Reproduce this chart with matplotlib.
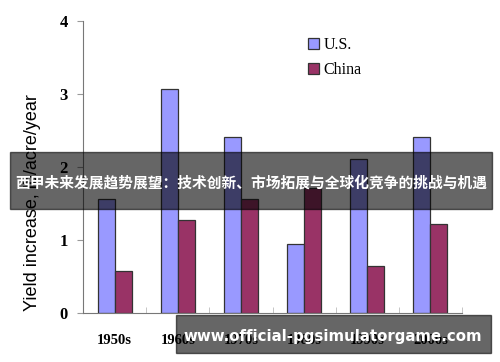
import numpy as np
import matplotlib.pyplot as plt

decades = ["1950s", "1960s", "1970s", "1980s", "1990s", "2000s"]
us = [1.56, 3.07, 2.41, 0.95, 2.11, 2.41]
china = [0.58, 1.27, 1.56, 1.71, 0.64, 1.22]

banner = "西甲未来发展趋势展望：技术创新、市场拓展与全球化竞争的挑战与机遇"
watermark = "www.official-pgsimulatorgame.com"

fig = plt.figure(figsize=(5, 3.62), dpi=100)
ax = fig.add_axes([0.166, 0.135, 0.758, 0.807])

x = np.arange(len(decades))
width = 0.27
ax.bar(x - width / 2, us, width, color="#9999ff", edgecolor="#333333",
       linewidth=0.9, label="U.S.")
ax.bar(x + width / 2, china, width, color="#993366", edgecolor="#333333",
       linewidth=0.9, label="China")

ax.set_xlim(-0.5, len(decades) - 0.5)
ax.set_ylim(0, 4)
ax.set_yticks([0, 1, 2, 3, 4])
ax.set_yticklabels(["0", "1", "2", "3", "4"], fontfamily="Liberation Serif",
                   fontweight="bold", fontsize=12)
ax.set_xticks(x)
ax.set_xticklabels(decades, fontfamily="Liberation Serif", fontweight="bold",
                   fontsize=10.5)
ax.tick_params(axis="x", length=0, pad=15)
ax.tick_params(axis="y", length=4, color="#999999", pad=7)
ax.set_xticks(np.arange(len(decades) + 1) - 0.5, minor=True)
ax.tick_params(axis="x", which="minor", direction="in", length=4, color="#bbbbbb")

for s in ["top", "right"]:
    ax.spines[s].set_visible(False)
ax.spines["left"].set_color("#777777")
ax.spines["bottom"].set_color("#777777")

ax.set_ylabel("Yield increase, lb/acre/year", fontfamily="Liberation Sans",
              fontsize=13)
ax.yaxis.set_label_coords(-0.11, 0.38)

ax.legend(loc="upper left", bbox_to_anchor=(0.555, 0.995), frameon=False,
          prop={"family": "Liberation Serif", "size": 11.5},
          handlelength=0.7, handleheight=0.7, handletextpad=0.3,
          labelspacing=0.6)

# overlay banner and watermark
fig.patches.append(plt.Rectangle((10 / 500, 1 - 209 / 362), 482 / 500, 57 / 362,
                                 transform=fig.transFigure, color="black",
                                 alpha=0.6, zorder=5))
fig.text(251 / 500, 1 - 183 / 362, banner, color="white", fontsize=10.6,
         fontweight="bold", ha="center", va="center", zorder=6,
         family=["Noto Sans CJK SC", "DejaVu Sans"])
fig.patches.append(plt.Rectangle((176 / 500, 1 - 353 / 362), 315 / 500, 38 / 362,
                                 transform=fig.transFigure, color="black",
                                 alpha=0.6, zorder=5))
fig.text(333 / 500, 1 - 336 / 362, watermark, color="white", fontsize=10.8,
         fontweight="bold", ha="center", va="center", zorder=6,
         family="DejaVu Sans")

fig.savefig("out.png", dpi=100)
